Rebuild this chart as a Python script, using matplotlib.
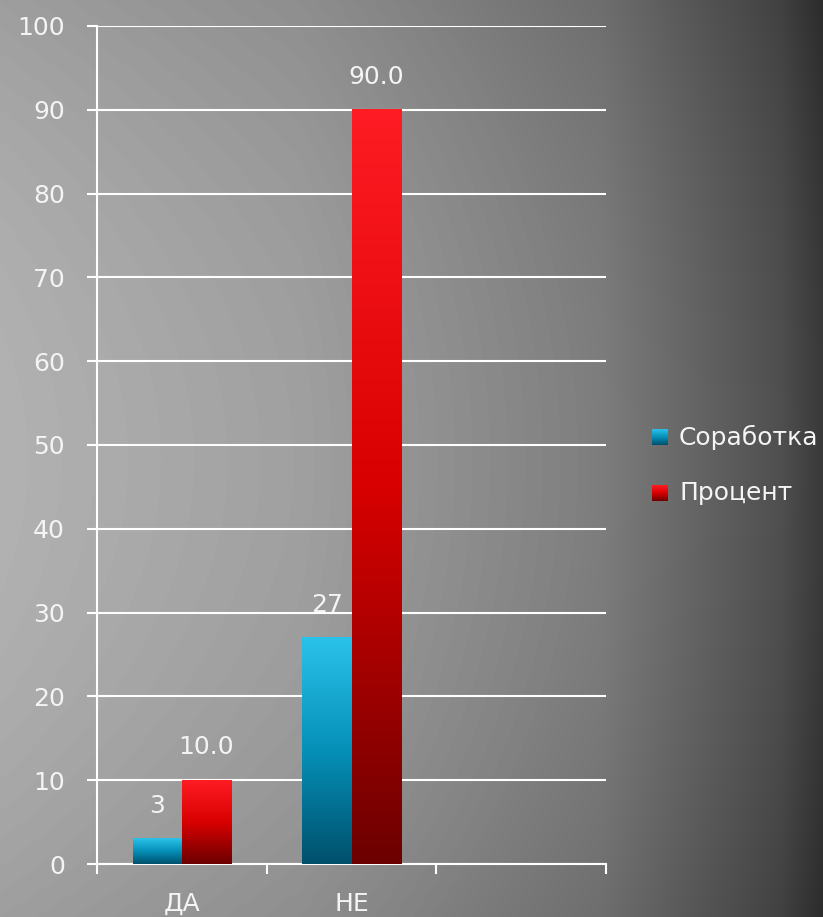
import numpy as np
import matplotlib.pyplot as plt
from matplotlib.colors import LinearSegmentedColormap

categories = ["ДА", "НЕ", ""]
sorabotka = [3, 27]
procent = [10.0, 90.0]
series_names = ["Соработка", "Процент"]

W, H = 823, 917
TEXT = "#f4f4f4"
FS = 18

blue_cmap = LinearSegmentedColormap.from_list("blue", ["#00506c", "#0590b8", "#2bc2ea"])
red_cmap = LinearSegmentedColormap.from_list("red", ["#6c0000", "#d80000", "#ff1c24"])
grad = np.linspace(0, 1, 256)[:, None]

fig = plt.figure(figsize=(W / 100, H / 100), dpi=100)

# grey backdrop, light on the left, dark on the right
bg = fig.add_axes([0, 0, 1, 1])
bg.axis("off")
xs = np.arange(W)
ys = np.arange(H)
gx = np.interp(xs, [0, 300, 600, 700, 780, 823], [178, 160, 126, 100, 80, 58])
vy = ((ys - 460) / 460.0) ** 2
img = gx[None, :] - vy[:, None] * np.interp(xs, [0, 823], [20, 14])[None, :]
bg.imshow(img, cmap="gray", vmin=0, vmax=255, extent=(0, 1, 0, 1), aspect="auto")
bg.set_xlim(0, 1)
bg.set_ylim(0, 1)

ax = fig.add_axes([97 / W, 1 - 864 / H, (606 - 97) / W, (864 - 26) / H])
ax.patch.set_alpha(0)

x = np.arange(len(sorabotka)) + 0.5
w = 0.29
bars1 = ax.bar(x - w / 2, sorabotka, w, color="none", zorder=3)
bars2 = ax.bar(x + w / 2, procent, w, color="none", zorder=3)

for bars, cmap in ((bars1, blue_cmap), (bars2, red_cmap)):
    for r in bars:
        x0, h = r.get_x(), r.get_height()
        ax.imshow(grad, cmap=cmap, origin="lower", aspect="auto",
                  extent=(x0, x0 + r.get_width(), 0, h), zorder=3)

for xi, v in zip(x - w / 2, sorabotka):
    ax.annotate(str(v), (xi, v), xytext=(0, 15), textcoords="offset points",
                ha="center", va="bottom", color=TEXT, fontsize=FS)
for xi, v in zip(x + w / 2, procent):
    ax.annotate(f"{v:.1f}", (xi, v), xytext=(0, 15), textcoords="offset points",
                ha="center", va="bottom", color=TEXT, fontsize=FS)

ax.set_xlim(0, len(categories))
ax.set_ylim(0, 100)
ax.set_yticks(range(0, 101, 10))
ax.yaxis.grid(True, color="white", lw=1.5, zorder=1)
ax.set_axisbelow(True)
ax.tick_params(axis="y", length=7, width=1.5, color="white", labelcolor=TEXT,
               labelsize=FS, pad=16)

ax.set_xticks(range(len(categories) + 1))
ax.set_xticklabels([])
ax.set_xticks(np.arange(len(categories)) + 0.5, minor=True)
ax.set_xticklabels(categories, minor=True)
ax.tick_params(axis="x", which="major", length=7, width=1.5, color="white")
ax.tick_params(axis="x", which="minor", length=0, labelcolor=TEXT,
               labelsize=FS, pad=20)

for s in ("top", "right"):
    ax.spines[s].set_visible(False)
for s in ("left", "bottom"):
    ax.spines[s].set_color("white")
    ax.spines[s].set_linewidth(1.5)

# legend with gradient swatches
for name, cmap, yc in zip(series_names, (blue_cmap, red_cmap), (437, 493)):
    sw = fig.add_axes([652 / W, 1 - (yc + 8) / H, 16 / W, 16 / H])
    sw.imshow(grad, cmap=cmap, origin="lower", aspect="auto")
    sw.axis("off")
    fig.text(679 / W, 1 - yc / H, name, color=TEXT, fontsize=FS, va="center", ha="left")

fig.savefig("out.png", dpi=100)
